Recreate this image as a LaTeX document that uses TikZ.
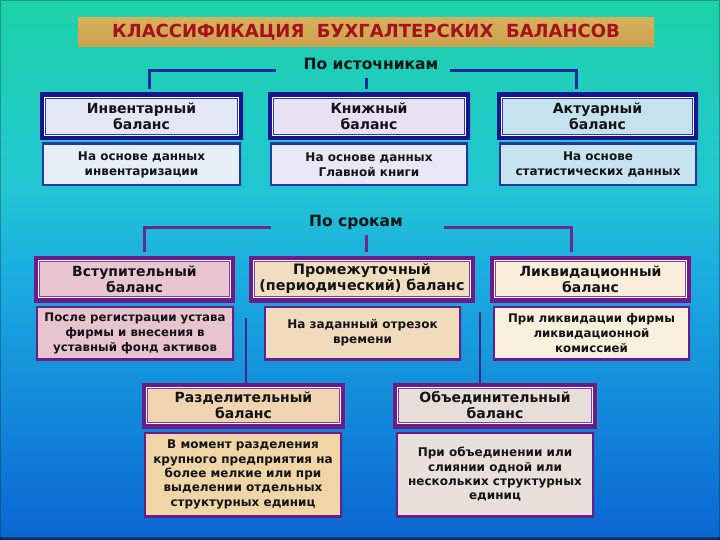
\documentclass[tikz,border=0pt]{standalone}
\usepackage{fontspec}
\setmainfont{DejaVu Sans}
\usetikzlibrary{calc}
\definecolor{bgtop}{HTML}{1DD3A8}
\definecolor{bgup}{HTML}{21C6D2}
\definecolor{bgmid}{HTML}{1BAEE0}
\definecolor{bgbot}{HTML}{0A66D2}
\definecolor{tcol}{HTML}{141418}
\definecolor{ttlred}{HTML}{A8101E}
\definecolor{gold1}{HTML}{D6B05A}
\definecolor{gold2}{HTML}{F1DE9C}
\definecolor{gold3}{HTML}{CCA24E}
\definecolor{bnavy}{HTML}{15168E}
\definecolor{bline}{HTML}{2A3AB4}
\definecolor{bdesc}{HTML}{2636A2}
\definecolor{pout}{HTML}{6A1C88}
\definecolor{pline}{HTML}{8A3AA6}
\definecolor{conblue}{HTML}{1C2A9C}
\definecolor{conpurp}{HTML}{6A2A8C}
\definecolor{conlow}{HTML}{3B2A8C}
\definecolor{fA}{HTML}{E4E8F6}
\definecolor{fB}{HTML}{E6E2F4}
\definecolor{fC}{HTML}{C6E2EC}
\definecolor{fdA}{HTML}{E6EEF8}
\definecolor{fdB}{HTML}{E8E8F6}
\definecolor{fdC}{HTML}{C8E4EE}
\definecolor{fV}{HTML}{E8C6D0}
\definecolor{fP}{HTML}{F0DEC0}
\definecolor{fL}{HTML}{F8EEDA}
\definecolor{fdV}{HTML}{E8C4CE}
\definecolor{fdP}{HTML}{F0DCBC}
\definecolor{fdL}{HTML}{F8F0DC}
\definecolor{fR}{HTML}{F0D4B0}
\definecolor{fO}{HTML}{E6DED8}
\definecolor{fdR}{HTML}{F0D6A6}
\definecolor{fdO}{HTML}{E8E0DA}
\pgfdeclareverticalshading{bgshade}{100bp}{color(0bp)=(bgbot); color(25bp)=(bgbot); color(50bp)=(bgmid); color(57.4bp)=(bgup); color(75bp)=(bgtop); color(100bp)=(bgtop)}
\tikzset{
  frame/.style n args={3}{rectangle, inner sep=0pt, fill=#3, align=center, text=tcol,
    font=\bfseries\fontsize{14}{16}\selectfont,
    path picture={
      \draw[#2, line width=12pt] (path picture bounding box.north west) rectangle (path picture bounding box.south east);
      \draw[white, line width=10pt] (path picture bounding box.north west) rectangle (path picture bounding box.south east);
      \draw[#1, line width=8.5pt] (path picture bounding box.north west) rectangle (path picture bounding box.south east);
    }},
  descbox/.style n args={2}{rectangle, inner sep=0pt, fill=#2, align=center, text=tcol,
    font=\bfseries\fontsize{12}{15}\selectfont,
    path picture={
      \draw[#1, line width=4pt] (path picture bounding box.north west) rectangle (path picture bounding box.south east);
    }},
  grouplabel/.style={text=tcol, font=\bfseries\fontsize{15.5}{18}\selectfont, inner sep=0pt},
  conA/.style={draw=conblue, line width=3pt},
  conB/.style={draw=conpurp, line width=3pt},
  conC/.style={draw=conlow, line width=2.5pt},
}
\begin{document}
\begin{tikzpicture}[x=1pt,y=-1pt]
\useasboundingbox (0,0) rectangle (720,540);
\shade[shading=bgshade] (0,0) rectangle (720,540);
\fill[bgbot!55!black] (0,536.5) rectangle (720,540);
\draw[black, opacity=0.25, line width=2.5pt] (0,0) rectangle (720,540);

% title
\node[rectangle, inner sep=0pt, minimum width=576pt, minimum height=29pt,
  top color=gold1, middle color=gold2, bottom color=gold3, text=ttlred,
  font=\bfseries\fontsize{18}{20}\selectfont] (title) at (366,32.5)
  {КЛАССИФИКАЦИЯ\hspace{0.7em}БУХГАЛТЕРСКИХ\hspace{0.7em}БАЛАНСОВ};

% group 1
\node[grouplabel] (src) at (371,64) {По источникам};
\node[frame={bnavy}{bline}{fA}, minimum width=203pt, minimum height=47pt] (inv) at (141.5,116.5) {Инвентарный\\баланс};
\node[frame={bnavy}{bline}{fB}, minimum width=202pt, minimum height=47pt] (knig) at (369,116.5) {Книжный\\баланс};
\node[frame={bnavy}{bline}{fC}, minimum width=201pt, minimum height=47pt] (akt) at (597.5,116.5) {Актуарный\\баланс};
\node[descbox={bdesc}{fdA}, minimum width=199pt, minimum height=43pt] (d1) at (141.5,164.5) {На основе данных\\инвентаризации};
\node[descbox={bdesc}{fdB}, minimum width=198pt, minimum height=43pt] (d2) at (369,164.5) {На основе данных\\Главной книги};
\node[descbox={bdesc}{fdC}, minimum width=198pt, minimum height=43pt] (d3) at (598,164.5) {На основе\\статистических данных};

\coordinate (s1l) at (276,71);
\coordinate (s1r) at (450,71);
\coordinate (s1m) at (366,78);
\coordinate (x1l) at (149,0);
\coordinate (x1r) at (576,0);
\draw[conA, shorten >=4pt] (s1l) -| (inv.north -| x1l);
\draw[conA, shorten >=4pt] (s1r) -| (akt.north -| x1r);
\draw[conA, shorten >=4pt] (s1m) -- (knig.north -| s1m);

% group 2
\node[grouplabel] (srok) at (356,222) {По срокам};
\node[frame={pout}{pline}{fV}, minimum width=201pt, minimum height=46pt] (vst) at (134.5,279) {Вступительный\\баланс};
\node[frame={pout}{pline}{fP}, minimum width=226pt, minimum height=46pt, font=\bfseries\fontsize{14.3}{16}\selectfont] (prom) at (362,279) {Промежуточный\\(периодический) баланс};
\node[frame={pout}{pline}{fL}, minimum width=201pt, minimum height=46pt] (likv) at (590.5,279) {Ликвидационный\\баланс};
\node[descbox={pout}{fdV}, minimum width=198pt, minimum height=54pt, font=\bfseries\fontsize{11.8}{15}\selectfont] (dv) at (135,333) {После регистрации устава\\фирмы и внесения в\\уставный фонд активов};
\node[descbox={pout}{fdP}, minimum width=197pt, minimum height=54pt] (dp) at (362.5,333) {На заданный отрезок\\времени};
\node[descbox={pout}{fdL}, minimum width=197pt, minimum height=54pt, font=\bfseries\fontsize{11.8}{15}\selectfont] (dl) at (591.5,333) {При ликвидации фирмы\\ликвидационной\\комиссией};

\coordinate (s2l) at (271,228);
\coordinate (s2r) at (444,228);
\coordinate (s2m) at (366,235);
\coordinate (x2l) at (144,0);
\coordinate (x2r) at (571,0);
\draw[conB, shorten >=4pt] (s2l) -| (vst.north -| x2l);
\draw[conB, shorten >=4pt] (s2r) -| (likv.north -| x2r);
\draw[conB, shorten >=4pt] (s2m) -- (prom.north -| s2m);

% group 3
\node[frame={pout}{pline}{fR}, minimum width=203pt, minimum height=45pt] (razd) at (243.5,405.5) {Разделительный\\баланс};
\node[frame={pout}{pline}{fO}, minimum width=204pt, minimum height=45pt] (obed) at (495,405.5) {Объединительный\\баланс};
\node[descbox={pout}{fdR}, minimum width=198pt, minimum height=85pt, font=\bfseries\fontsize{12}{14.3}\selectfont] (dr) at (243,474.5) {В момент разделения\\крупного предприятия на\\более мелкие или при\\выделении отдельных\\структурных единиц};
\node[descbox={pout}{fdO}, minimum width=198pt, minimum height=85pt, font=\bfseries\fontsize{12}{14.3}\selectfont] (dob) at (495,474.5) {При объединении или\\слиянии одной или\\нескольких структурных\\единиц};

\coordinate (s3l) at (246,318);
\coordinate (s3r) at (480,312);
\draw[conC] (s3l) -- (razd.north -| s3l);
\draw[conC] (s3r) -- (obed.north -| s3r);
\end{tikzpicture}
\end{document}
